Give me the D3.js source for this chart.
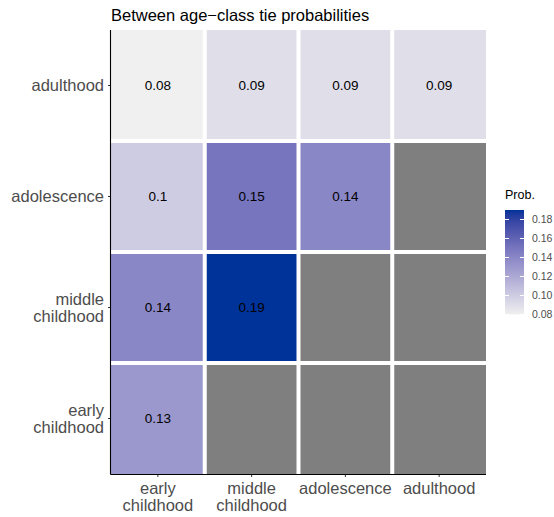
<!DOCTYPE html>
<html>
<head>
<meta charset="utf-8">
<script src="https://cdn.jsdelivr.net/npm/d3@7"></script>
<style>
  body { margin: 0; background: #fff; }
  svg { font-family: "Liberation Sans", Arial, sans-serif; }
</style>
</head>
<body>
<div id="chart"></div>
<script>
// age classes, used on both axes
var classes = ["early childhood", "middle childhood", "adolescence", "adulthood"];

// one array per row (y class), values per column (x class); null = no tie
var probEarly  = [0.13, null, null, null];
var probMiddle = [0.14, 0.19, null, null];
var probAdol   = [0.10, 0.15, 0.14, null];
var probAdult  = [0.08, 0.09, 0.09, 0.09];

var legendTicks = [0.08, 0.10, 0.12, 0.14, 0.16, 0.18];

var rows = [probEarly, probMiddle, probAdol, probAdult];
var cells = [];
rows.forEach(function(r, i){
  r.forEach(function(v, j){
    cells.push({y: classes[i], x: classes[j], p: v});
  });
});

var W = 554, H = 517;
var margin = {top: 30, left: 111, right: 68, bottom: 43};
var width = W - margin.left - margin.right,
    height = H - margin.top - margin.bottom;

var svg = d3.select("#chart").append("svg")
    .attr("width", W)
    .attr("height", H);

var g = svg.append("g")
    .attr("transform", "translate(" + margin.left + "," + margin.top + ")");

var x = d3.scaleBand().domain(classes).range([0, width]);
var y = d3.scaleBand().domain(classes).range([height, 0]);

var vals = cells.filter(function(d){ return d.p != null; }).map(function(d){ return d.p; });
var ext = d3.extent(vals);
var color = d3.scaleLinear()
    .domain([ext[0], 0.14, ext[1]])
    .range(["#F0F0F0", "#8A87C6", "#003399"])
    .interpolate(d3.interpolateLab);

var fmt = function(v){ return String(+d3.format(".2f")(v)); };

// tiles
g.selectAll(".tile")
  .data(cells)
  .enter().append("rect")
    .attr("class", "tile")
    .attr("x", function(d){ return x(d.x); })
    .attr("y", function(d){ return y(d.y); })
    .attr("width", x.bandwidth())
    .attr("height", y.bandwidth())
    .style("fill", function(d){ return d.p == null ? "#7F7F7F" : color(d.p); });

// white gaps between tiles
g.selectAll(".vsep")
  .data(classes.slice(1))
  .enter().append("line")
    .attr("x1", function(d){ return x(d); })
    .attr("x2", function(d){ return x(d); })
    .attr("y1", 0).attr("y2", height)
    .style("stroke", "#fff").style("stroke-width", 4);
g.selectAll(".hsep")
  .data(classes.slice(0, 3))
  .enter().append("line")
    .attr("y1", function(d){ return y(d); })
    .attr("y2", function(d){ return y(d); })
    .attr("x1", 0).attr("x2", width)
    .style("stroke", "#fff").style("stroke-width", 4);

// cell labels
g.selectAll(".lab")
  .data(cells.filter(function(d){ return d.p != null; }))
  .enter().append("text")
    .attr("x", function(d){ return x(d.x) + x.bandwidth() / 2; })
    .attr("y", function(d){ return y(d.y) + y.bandwidth() / 2; })
    .attr("dy", "0.36em")
    .attr("text-anchor", "middle")
    .style("font-size", "13.5px")
    .style("fill", "#000")
    .text(function(d){ return fmt(d.p); });

// axes
var xAxis = g.append("g")
    .attr("transform", "translate(0," + height + ")")
    .call(d3.axisBottom(x).tickSize(3).tickPadding(4));
var yAxis = g.append("g")
    .call(d3.axisLeft(y).tickSize(3).tickPadding(4));

[xAxis, yAxis].forEach(function(a){
  a.select(".domain").attr("d", null);
  a.selectAll(".tick line").style("stroke", "#333");
  a.selectAll(".tick text").style("font-size", "16.5px").style("fill", "#4D4D4D").text(null);
});

xAxis.selectAll(".tick text").each(function(d){
  var parts = d.split(" ");
  var t = d3.select(this).attr("y", 8).attr("dy", null);
  parts.forEach(function(p, i){
    t.append("tspan").attr("x", 0).attr("dy", i == 0 ? "0.71em" : "1.02em").text(p);
  });
});

yAxis.selectAll(".tick text").each(function(d){
  var parts = d.split(" ");
  var t = d3.select(this).attr("dy", null);
  var start = (0.36 - (parts.length - 1) * 1.02 / 2);
  parts.forEach(function(p, i){
    t.append("tspan").attr("x", -7).attr("dy", (i == 0 ? start : 1.02) + "em").text(p);
  });
});

// axis lines
g.append("line").attr("x1", -0.5).attr("x2", -0.5).attr("y1", 0).attr("y2", height + 0.5)
  .style("stroke", "#000").style("stroke-width", 1.1);
g.append("line").attr("x1", -0.5).attr("x2", width).attr("y1", height + 0.5).attr("y2", height + 0.5)
  .style("stroke", "#000").style("stroke-width", 1.1);

// title
svg.append("text")
  .attr("x", margin.left)
  .attr("y", 21)
  .text("Between age\u2212class tie probabilities")
  .style("font-size", "16.5px")
  .style("fill", "#000");

// legend
var legX = 505, barW = 19;
var ly = d3.scaleLinear().domain(ext).range([314.5, 210]);

var defs = svg.append("defs");
var grad = defs.append("linearGradient")
    .attr("id", "probgrad")
    .attr("x1", "0").attr("y1", "1").attr("x2", "0").attr("y2", "0");
d3.range(0, 1.0001, 0.05).forEach(function(t){
  var v = ext[0] + t * (ext[1] - ext[0]);
  grad.append("stop").attr("offset", t).attr("stop-color", color(v));
});

svg.append("text")
  .attr("x", legX)
  .attr("y", 199)
  .text("Prob.")
  .style("font-size", "12.5px")
  .style("fill", "#000");

svg.append("rect")
  .attr("x", legX)
  .attr("y", ly(ext[1]))
  .attr("width", barW)
  .attr("height", ly(ext[0]) - ly(ext[1]))
  .style("fill", "url(#probgrad)");

var lt = svg.selectAll(".lt")
  .data(legendTicks)
  .enter().append("g")
    .attr("transform", function(d){ return "translate(0," + ly(d) + ")"; });
lt.append("line").attr("x1", legX).attr("x2", legX + 4)
  .style("stroke", "#fff").style("stroke-width", 1);
lt.append("line").attr("x1", legX + barW - 4).attr("x2", legX + barW)
  .style("stroke", "#fff").style("stroke-width", 1);
lt.append("text")
  .attr("x", legX + barW + 8)
  .attr("dy", "0.36em")
  .text(function(d){ return d3.format(".2f")(d); })
  .style("font-size", "10.5px")
  .style("fill", "#4D4D4D");
</script>
</body>
</html>
